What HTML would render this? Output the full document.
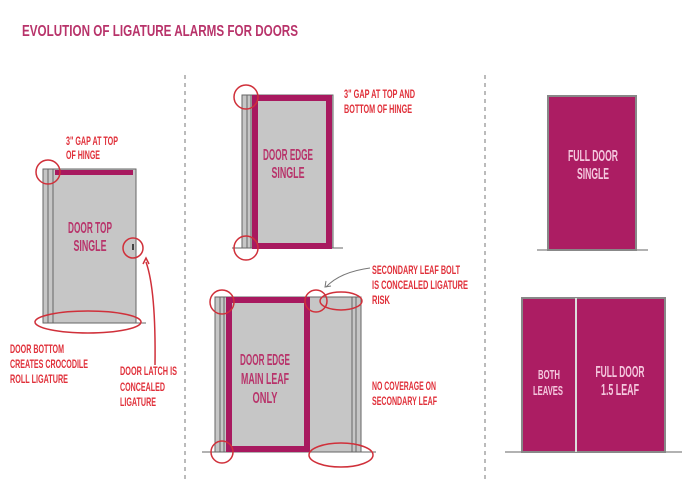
<!DOCTYPE html>
<html><head><style>
html,body{margin:0;padding:0;background:#fff;width:700px;height:495px;overflow:hidden}
text{font-family:"Liberation Sans Narrow","Liberation Sans",sans-serif;font-weight:bold}
</style></head><body>
<svg width="700" height="495" viewBox="0 0 700 495" xmlns="http://www.w3.org/2000/svg">
<text x="22" y="36" font-size="16" fill="#b8336a" textLength="276" lengthAdjust="spacingAndGlyphs">EVOLUTION OF LIGATURE ALARMS FOR DOORS</text>

<line x1="185" y1="75" x2="185" y2="482" stroke="#777" stroke-width="1" stroke-dasharray="4,4"/>
<line x1="485" y1="75" x2="485" y2="482" stroke="#777" stroke-width="1" stroke-dasharray="4,4"/>

<g fill="#e0303a" font-size="12">
<text x="66" y="145" textLength="52" lengthAdjust="spacingAndGlyphs">3" GAP AT TOP</text>
<text x="66" y="159" textLength="34" lengthAdjust="spacingAndGlyphs">OF HINGE</text>
<text x="10" y="353" textLength="54" lengthAdjust="spacingAndGlyphs">DOOR BOTTOM</text>
<text x="10" y="368" textLength="78" lengthAdjust="spacingAndGlyphs">CREATES CROCODILE</text>
<text x="10" y="383" textLength="58" lengthAdjust="spacingAndGlyphs">ROLL LIGATURE</text>
<text x="120" y="375" textLength="57" lengthAdjust="spacingAndGlyphs">DOOR LATCH IS</text>
<text x="120" y="391" textLength="45" lengthAdjust="spacingAndGlyphs">CONCEALED</text>
<text x="120" y="406" textLength="36" lengthAdjust="spacingAndGlyphs">LIGATURE</text>
<text x="344" y="98" textLength="71" lengthAdjust="spacingAndGlyphs">3" GAP AT TOP AND</text>
<text x="344" y="113" textLength="68" lengthAdjust="spacingAndGlyphs">BOTTOM OF HINGE</text>
<text x="372" y="274" textLength="88" lengthAdjust="spacingAndGlyphs">SECONDARY LEAF BOLT</text>
<text x="372" y="289" textLength="96" lengthAdjust="spacingAndGlyphs">IS CONCEALED LIGATURE</text>
<text x="372" y="304" textLength="18" lengthAdjust="spacingAndGlyphs">RISK</text>
<text x="372" y="390" textLength="64" lengthAdjust="spacingAndGlyphs">NO COVERAGE ON</text>
<text x="372" y="405" textLength="65" lengthAdjust="spacingAndGlyphs">SECONDARY LEAF</text>
</g>

<!-- Door 1 -->
<rect x="43" y="169" width="93" height="154" fill="#c6c6c6" stroke="#666" stroke-width="1"/>
<line x1="48" y1="169" x2="48" y2="323" stroke="#666"/>
<line x1="53" y1="169" x2="53" y2="323" stroke="#666"/>
<rect x="55" y="170" width="78" height="5" fill="#a8195f"/>
<line x1="136" y1="323" x2="146" y2="323" stroke="#666"/>
<rect x="132" y="244" width="2" height="6" fill="#444"/>
<text x="90" y="233" font-size="16" fill="#b8336a" text-anchor="middle" textLength="44" lengthAdjust="spacingAndGlyphs">DOOR TOP</text>
<text x="90" y="251" font-size="16" fill="#b8336a" text-anchor="middle" textLength="33" lengthAdjust="spacingAndGlyphs">SINGLE</text>
<g fill="none" stroke="#d0303a" stroke-width="1.5">
<circle cx="48" cy="172" r="12"/>
<circle cx="133" cy="248" r="10"/>
<ellipse cx="88" cy="322" rx="53" ry="11"/>
<path d="M155 365 Q156 290 146 262"/>
<path d="M143 264 L146 258 L149 264"/>
</g>

<!-- Door 2 -->
<line x1="232" y1="248" x2="343" y2="248" stroke="#666"/>
<rect x="242" y="95" width="91" height="153" fill="#c6c6c6" stroke="#666"/>
<line x1="247" y1="95" x2="247" y2="248" stroke="#666"/>
<line x1="251" y1="95" x2="251" y2="248" stroke="#666"/>
<rect x="255" y="98" width="74" height="148" fill="none" stroke="#a8195f" stroke-width="6"/>
<text x="288" y="160" font-size="16" fill="#b8336a" text-anchor="middle" textLength="50" lengthAdjust="spacingAndGlyphs">DOOR EDGE</text>
<text x="288" y="178" font-size="16" fill="#b8336a" text-anchor="middle" textLength="33" lengthAdjust="spacingAndGlyphs">SINGLE</text>
<g fill="none" stroke="#d0303a" stroke-width="1.5">
<circle cx="246" cy="97" r="12"/>
<circle cx="246" cy="248" r="12"/>
</g>

<!-- Door 3 -->
<line x1="202" y1="452" x2="376" y2="452" stroke="#666"/>
<rect x="215" y="297" width="146" height="155" fill="#c6c6c6" stroke="#666"/>
<line x1="220" y1="297" x2="220" y2="452" stroke="#666"/>
<line x1="224" y1="297" x2="224" y2="452" stroke="#666"/>
<line x1="352" y1="297" x2="352" y2="452" stroke="#666"/>
<line x1="356" y1="297" x2="356" y2="452" stroke="#666"/>
<rect x="229" y="300" width="78" height="149" fill="none" stroke="#a8195f" stroke-width="6"/>
<text x="265" y="365" font-size="16" fill="#b8336a" text-anchor="middle" textLength="50" lengthAdjust="spacingAndGlyphs">DOOR EDGE</text>
<text x="265" y="384" font-size="16" fill="#b8336a" text-anchor="middle" textLength="48" lengthAdjust="spacingAndGlyphs">MAIN LEAF</text>
<text x="265" y="403" font-size="16" fill="#b8336a" text-anchor="middle" textLength="25" lengthAdjust="spacingAndGlyphs">ONLY</text>
<g fill="none" stroke="#d0303a" stroke-width="1.5">
<circle cx="222" cy="302" r="12"/>
<circle cx="316" cy="301" r="11"/>
<ellipse cx="341" cy="301" rx="21" ry="9"/>
<circle cx="222" cy="452" r="11"/>
<ellipse cx="341" cy="455" rx="32" ry="12"/>
</g>
<g fill="none" stroke="#777" stroke-width="1">
<path d="M370 268 Q340 272 326 287"/>
<path d="M326 281 L325 287 L331 286"/>
</g>

<!-- Door 4 -->
<line x1="537" y1="250" x2="648" y2="250" stroke="#666"/>
<rect x="548" y="96" width="88" height="154" fill="#ac1d63" stroke="#888" stroke-width="2"/>
<text x="593" y="161" font-size="16" fill="#f4c8de" text-anchor="middle" textLength="50" lengthAdjust="spacingAndGlyphs">FULL DOOR</text>
<text x="593" y="179" font-size="16" fill="#f4c8de" text-anchor="middle" textLength="32" lengthAdjust="spacingAndGlyphs">SINGLE</text>

<!-- Door 5 -->
<line x1="505" y1="452" x2="682" y2="452" stroke="#666"/>
<rect x="522" y="298" width="143" height="154" fill="#ac1d63" stroke="#888" stroke-width="2"/>
<line x1="576" y1="298" x2="576" y2="452" stroke="#ddd" stroke-width="2"/>
<text x="549" y="379" font-size="13" fill="#f4c8de" text-anchor="middle" textLength="22" lengthAdjust="spacingAndGlyphs">BOTH</text>
<text x="548" y="395" font-size="13" fill="#f4c8de" text-anchor="middle" textLength="30" lengthAdjust="spacingAndGlyphs">LEAVES</text>
<text x="620" y="377" font-size="16" fill="#f4c8de" text-anchor="middle" textLength="49" lengthAdjust="spacingAndGlyphs">FULL DOOR</text>
<text x="620" y="395" font-size="16" fill="#f4c8de" text-anchor="middle" textLength="38" lengthAdjust="spacingAndGlyphs">1.5 LEAF</text>
</svg>
</body></html>
